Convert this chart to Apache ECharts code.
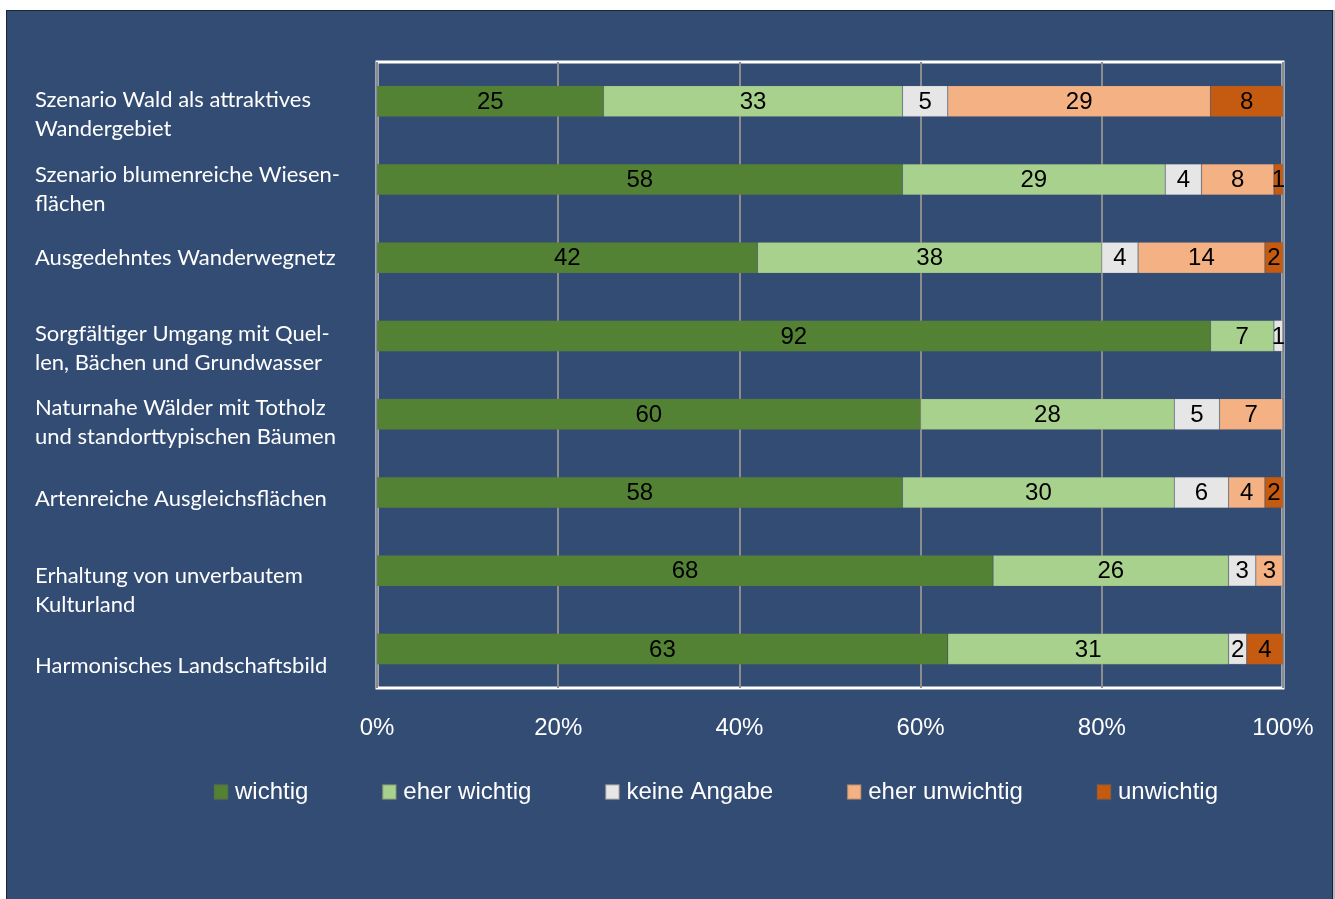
<!DOCTYPE html>
<html>
<head>
<meta charset="utf-8">
<script src="https://cdn.jsdelivr.net/npm/echarts@6/dist/echarts.min.js"></script>
<style>
  html, body { margin: 0; padding: 0; background: #ffffff; width: 1335px; height: 899px; overflow: hidden; }
  #frame { position: absolute; left: 6px; top: 10px; width: 1325px; height: 900px; background: #334c74; border: 1px solid #1b2438; border-bottom: none; }
  #edge { position: absolute; left: 1333px; top: 10px; width: 2px; height: 889px; background: #b8b8b8; }
  #chart { position: absolute; left: 0; top: 0; width: 1335px; height: 899px; }
</style>
</head>
<body>
<div id="frame"></div>
<div id="edge"></div>
<div id="chart"></div>
<script>
const categories = [
  "Szenario Wald als attraktives\nWandergebiet",
  "Szenario blumenreiche Wiesen-\nflächen",
  "Ausgedehntes Wanderwegnetz",
  "Sorgfältiger Umgang mit Quel-\nlen, Bächen und Grundwasser",
  "Naturnahe Wälder mit Totholz\nund standorttypischen Bäumen",
  "Artenreiche Ausgleichsflächen",
  "Erhaltung von unverbautem\nKulturland",
  "Harmonisches Landschaftsbild"
];
const seriesNames = ["wichtig", "eher wichtig", "keine Angabe", "eher unwichtig", "unwichtig"];
const wichtig       = [25, 58, 42, 92, 60, 58, 68, 63];
const eherWichtig   = [33, 29, 38, 7, 28, 30, 26, 31];
const keineAngabe   = [5, 4, 4, 1, 5, 6, 3, 2];
const eherUnwichtig = [29, 8, 14, 0, 7, 4, 3, 0];
const unwichtig     = [8, 1, 2, 0, 0, 2, 0, 4];
const xTicks = [0, 20, 40, 60, 80, 100];

const colors = ["#548235", "#a9d18e", "#e7e6e6", "#f4b183", "#c55a11"];
const labelShift = [13, 10, 0, 13, 8, 7, 20, 17];
const allValues = [wichtig, eherWichtig, keineAngabe, eherUnwichtig, unwichtig];

const rich = { t: { color: '#ffffff', fontFamily: 'Lato, "Open Sans", sans-serif', fontSize: 22, lineHeight: 29, align: 'left' } };
labelShift.forEach((d, i) => {
  rich['g' + i] = { fontSize: 1, lineHeight: Math.max(1, d * 2), height: Math.max(1, d * 2), align: 'left' };
});

const chart = echarts.init(document.getElementById('chart'));
const option = {
  backgroundColor: 'transparent',
  animation: false,
  color: colors,
  grid: {
    left: 377, right: 52, top: 62, bottom: 211,
    containLabel: false, outerBoundsMode: 'none',
    show: true, borderColor: '#ffffff', borderWidth: 3, backgroundColor: 'transparent'
  },
  legend: {
    left: 213, top: 780, padding: 0,
    itemWidth: 14, itemHeight: 15, itemGap: 73,
    icon: 'rect',
    textStyle: { color: '#ffffff', fontFamily: 'Liberation Sans, Arial, sans-serif', fontSize: 24, padding: [0, 0, 0, 2] },
    data: seriesNames
  },
  xAxis: {
    type: 'value', min: xTicks[0], max: xTicks[xTicks.length - 1], interval: 20,
    axisLine: { show: false }, axisTick: { show: false },
    splitLine: { show: true, lineStyle: { color: '#8c8c8c', width: 2 } },
    axisLabel: { color: '#ffffff', fontFamily: 'Liberation Sans, Arial, sans-serif', fontSize: 24, margin: 28, formatter: '{value}%' }
  },
  yAxis: {
    type: 'category', inverse: true,
    data: categories,
    axisLine: { show: false }, axisTick: { show: false },
    axisLabel: {
      interval: 0, showMinLabel: true, showMaxLabel: true, hideOverlap: false,
      align: 'left', margin: 342,
      formatter: (v, i) => {
        const lines = v.split('\n').map(l => '{t|' + l + '}').join('\n');
        return labelShift[i] > 0 ? '{g' + i + '| }\n' + lines : lines;
      },
      rich: rich
    }
  },
  series: allValues.map((vals, k) => ({
    name: seriesNames[k],
    type: 'bar', stack: 'total', barWidth: 31,
    data: vals,
    itemStyle: { color: colors[k], borderColor: 'rgba(90,90,90,0.35)', borderWidth: 0.5 },
    label: {
      show: true, position: 'inside', color: '#000000', offset: [0, 1],
      fontFamily: '"Liberation Sans", Arial, sans-serif', fontSize: 24,
      formatter: p => (p.value ? String(p.value) : '')
    }
  }))
};
chart.setOption(option);
</script>
</body>
</html>
